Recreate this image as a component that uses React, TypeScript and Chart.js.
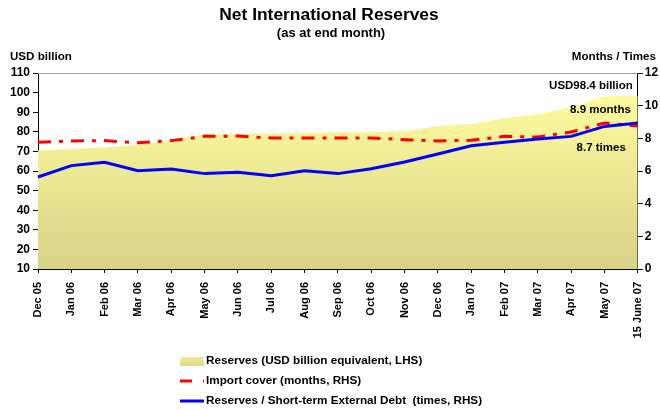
import React, { useEffect, useRef } from "react";
import { Chart, registerables } from "chart.js";

Chart.register(...registerables);

const categories = [
  "Dec 05", "Jan 06", "Feb 06", "Mar 06", "Apr 06", "May 06", "Jun 06", "Jul 06",
  "Aug 06", "Sep 06", "Oct 06", "Nov 06", "Dec 06", "Jan 07", "Feb 07", "Mar 07",
  "Apr 07", "May 07", "15 June 07",
];
const reserves = [70.5, 71.2, 72, 73.4, 75.5, 79, 79, 79.2, 79.5, 79.7, 79.9, 80.4, 82.8, 84, 87, 89, 92.5, 98.2, 98.4];
const importCover = [7.76, 7.84, 7.86, 7.73, 7.86, 8.12, 8.14, 8.02, 8.02, 8.02, 8.02, 7.92, 7.84, 7.88, 8.12, 8.08, 8.39, 8.94, 8.75];
const debtCover = [5.63, 6.33, 6.53, 6.02, 6.12, 5.84, 5.92, 5.71, 6.02, 5.84, 6.14, 6.55, 7.04, 7.55, 7.76, 7.96, 8.12, 8.73, 8.94];
const seriesNames = [
  "Reserves (USD billion equivalent, LHS)",
  "Import cover (months, RHS)",
  "Reserves / Short-term External Debt  (times, RHS)",
];
const titleText = "Net International Reserves";
const subtitleText = "(as at end month)";
const leftAxisTitle = "USD billion";
const rightAxisTitle = "Months / Times";
const annotations = ["USD98.4 billion", "8.9 months", "8.7 times"];

const FONT = "Arial, 'Liberation Sans', sans-serif";

const decorPlugin = {
  id: "decor",
  beforeDatasetsDraw(chart: any) {
    const { ctx, chartArea } = chart;
    ctx.save();
    ctx.strokeStyle = "#a0a0a0";
    ctx.lineWidth = 1;
    ctx.beginPath();
    ctx.moveTo(chartArea.left, chartArea.top + 0.5);
    ctx.lineTo(chartArea.right, chartArea.top + 0.5);
    ctx.stroke();
    ctx.restore();
  },
  afterDraw(chart: any) {
    const { ctx, chartArea } = chart;
    ctx.save();
    ctx.fillStyle = "#000";
    ctx.textBaseline = "middle";
    // titles
    ctx.textAlign = "center";
    ctx.font = `bold 17.4px ${FONT}`;
    ctx.fillText(titleText, 329, 15);
    ctx.font = `bold 13px ${FONT}`;
    ctx.fillText(subtitleText, 331, 33);
    // axis titles
    ctx.font = `bold 11.6px ${FONT}`;
    ctx.textAlign = "left";
    ctx.fillText(leftAxisTitle, 10, 57);
    ctx.textAlign = "right";
    ctx.fillText(rightAxisTitle, 656, 57);
    // annotations
    ctx.font = `bold 11.5px ${FONT}`;
    ctx.fillText(annotations[0], chartArea.right - 5, 86);
    ctx.fillText(annotations[1], chartArea.right - 7, 110);
    ctx.fillText(annotations[2], chartArea.right - 12, 148);
    // legend
    const lx = 180;
    const rows = [361, 381, 401];
    const grad = ctx.createLinearGradient(0, rows[0] - 5, 0, rows[0] + 5);
    grad.addColorStop(0, "#f3ee9e");
    grad.addColorStop(1, "#dedb8e");
    ctx.fillStyle = grad;
    ctx.fillRect(lx, rows[0] - 4, 24, 9);
    ctx.strokeStyle = "#ff0000";
    ctx.lineWidth = 3;
    ctx.beginPath();
    ctx.moveTo(lx, rows[1]);
    ctx.lineTo(lx + 12, rows[1]);
    ctx.moveTo(lx + 23, rows[1]);
    ctx.lineTo(lx + 24, rows[1]);
    ctx.stroke();
    ctx.strokeStyle = "#0000ff";
    ctx.beginPath();
    ctx.moveTo(lx, rows[2]);
    ctx.lineTo(lx + 24, rows[2]);
    ctx.stroke();
    ctx.fillStyle = "#000";
    ctx.textAlign = "left";
    ctx.font = `bold 11.7px ${FONT}`;
    seriesNames.forEach((n, i) => ctx.fillText(n, lx + 26, rows[i]));
    ctx.restore();
  },
};

export default function App() {
  const ref = useRef<HTMLCanvasElement>(null);
  useEffect(() => {
    document.body.style.margin = "0";
    const canvas = ref.current!;
    const xFont = { family: FONT, size: 11, weight: "bold" as const };
    const yFont = { family: FONT, size: 12, weight: "bold" as const };
    const chart = new Chart(canvas, {
      type: "line",
      data: {
        labels: categories,
        datasets: [
          {
            label: seriesNames[1],
            data: importCover,
            yAxisID: "y2",
            borderColor: "#ff0000",
            borderWidth: 3,
            borderDash: [13, 8, 4, 8],
            pointRadius: 0,
            fill: false,
            tension: 0,
            order: 1,
          },
          {
            label: seriesNames[2],
            data: debtCover,
            yAxisID: "y2",
            borderColor: "#0000ff",
            borderWidth: 3,
            pointRadius: 0,
            fill: false,
            tension: 0,
            order: 0,
          },
          {
            label: seriesNames[0],
            data: reserves,
            yAxisID: "y",
            borderWidth: 0,
            borderColor: "rgba(0,0,0,0)",
            pointRadius: 0,
            fill: "start",
            tension: 0,
            order: 2,
            backgroundColor: (c: any) => {
              const area = c.chart.chartArea;
              if (!area) return "#eeea98";
              const g = c.chart.ctx.createLinearGradient(0, area.top, 0, area.bottom);
              g.addColorStop(0, "#ffff9c");
              g.addColorStop(0.25, "#f8f59a");
              g.addColorStop(1, "#d6d288");
              return g;
            },
          },
        ],
      },
      options: {
        animation: false,
        responsive: false,
        layout: { padding: { top: 73, left: 0, right: 0, bottom: 0 } },
        plugins: {
          legend: { display: false },
          tooltip: { enabled: false },
          title: { display: false },
        },
        scales: {
          x: {
            offset: false,
            grid: { drawOnChartArea: false, drawTicks: true, tickLength: 4, color: "#000" },
            border: { display: true, color: "#000", width: 1 },
            ticks: {
              autoSkip: false,
              minRotation: 90,
              maxRotation: 90,
              padding: 9,
              color: "#000",
              font: xFont,
            },
            afterFit: (s: any) => {
              s.height = 141;
            },
          },
          y: {
            position: "left",
            min: 10,
            max: 110,
            grid: { drawOnChartArea: false, drawTicks: true, tickLength: 5, color: "#000" },
            border: { display: true, color: "#000", width: 1 },
            ticks: { stepSize: 10, color: "#000", font: yFont, padding: 3 },
            afterFit: (s: any) => {
              s.width = 38;
            },
          },
          y2: {
            position: "right",
            min: 0,
            max: 12,
            grid: { drawOnChartArea: false, drawTicks: true, tickLength: 5, color: "#000" },
            border: { display: true, color: "#000", width: 1 },
            ticks: { stepSize: 2, color: "#000", font: yFont, padding: 2 },
            afterFit: (s: any) => {
              s.width = 22;
            },
          },
        },
      },
      plugins: [decorPlugin],
    });
    return () => chart.destroy();
  }, []);
  return <canvas ref={ref} width={660} height={410} style={{ display: "block" }} />;
}
